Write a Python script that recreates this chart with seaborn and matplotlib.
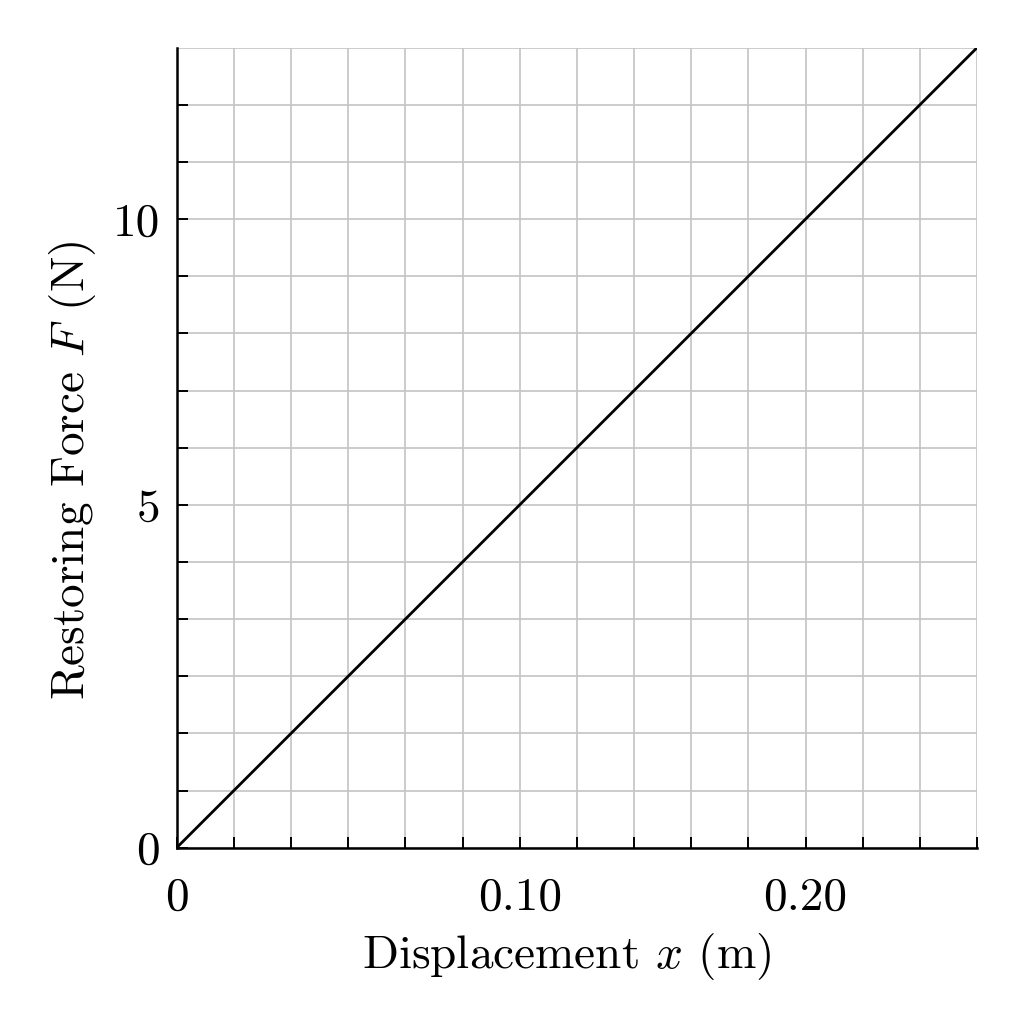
import numpy as np
import pandas as pd
import matplotlib
matplotlib.use('Agg')
import matplotlib.pyplot as plt
import matplotlib.ticker as mticker
import seaborn as sns

# Hooke's law line, F = k x
displacement = [0.0, 0.26]      # m
force = [0.0, 13.0]             # N

x_labels = [0.0, 0.10, 0.20]
x_label_text = ['0', '0.10', '0.20']
y_labels = [0, 5, 10]
y_label_text = ['0', '5', '10']

# the grid in the picture is not evenly spaced in data units:
# labelled values sit on grid lines 0, 6 and 11 of 14
X_ANCHOR = [0.0, 0.10, 0.20, 0.26]
Y_ANCHOR = [0.0, 5.0, 10.0, 13.0]
GRID_ANCHOR = [0, 6, 11, 14]


def make_scale(anchor):
    a = np.asarray(anchor, float)
    g = np.asarray(GRID_ANCHOR, float)

    def fwd(v):
        v = np.asarray(v, float)
        out = np.interp(v, a, g)
        lo = v < a[0]
        hi = v > a[-1]
        out = np.where(lo, g[0] + (v - a[0]) * (g[1] - g[0]) / (a[1] - a[0]), out)
        out = np.where(hi, g[-1] + (v - a[-1]) * (g[-1] - g[-2]) / (a[-1] - a[-2]), out)
        return out

    def inv(u):
        u = np.asarray(u, float)
        out = np.interp(u, g, a)
        lo = u < g[0]
        hi = u > g[-1]
        out = np.where(lo, a[0] + (u - g[0]) * (a[1] - a[0]) / (g[1] - g[0]), out)
        out = np.where(hi, a[-1] + (u - g[-1]) * (a[-1] - a[-2]) / (g[-1] - g[-2]), out)
        return out

    return fwd, inv


sns.set_theme(style='white')
plt.rcParams['font.family'] = ['cmr10']
plt.rcParams['mathtext.fontset'] = 'cm'
plt.rcParams['axes.formatter.use_mathtext'] = True

df = pd.DataFrame({'x': displacement, 'F': force})

fig = plt.figure(figsize=(10.24, 10.24), dpi=100)
ax = fig.add_axes([0.1726, 0.1722, 0.7815, 0.7812])

fx, ix = make_scale(X_ANCHOR)
fy, iy = make_scale(Y_ANCHOR)
ax.set_xscale('function', functions=(fx, ix))
ax.set_yscale('function', functions=(fy, iy))

sns.lineplot(data=df, x='x', y='F', ax=ax, color='black', linewidth=2.0)

ax.set_xlim(X_ANCHOR[0], X_ANCHOR[-1])
ax.set_ylim(Y_ANCHOR[0], Y_ANCHOR[-1])

grid_idx = np.arange(GRID_ANCHOR[-1] + 1)
ax.xaxis.set_major_locator(mticker.FixedLocator(x_labels))
ax.xaxis.set_major_formatter(mticker.FixedFormatter(x_label_text))
ax.yaxis.set_major_locator(mticker.FixedLocator(y_labels))
ax.yaxis.set_major_formatter(mticker.FixedFormatter(y_label_text))
ax.xaxis.set_minor_locator(mticker.FixedLocator(ix(grid_idx[1:])))
ax.yaxis.set_minor_locator(mticker.FixedLocator(iy(grid_idx[1:-1])))

# grid lines everywhere, including the top and right edges
for v in ix(grid_idx):
    ax.axvline(v, color='#c4c4c4', linewidth=1.2, zorder=0)
for v in iy(grid_idx):
    ax.axhline(v, color='#c4c4c4', linewidth=1.2, zorder=0)

ax.tick_params(which='both', direction='in', length=8, width=1.4, color='black',
               bottom=True, left=True, top=False, right=False,
               labelsize=34, labelcolor='black')
ax.tick_params(axis='x', which='major', pad=21)
ax.tick_params(axis='y', which='major', pad=12)

for side in ['top', 'right']:
    ax.spines[side].set_visible(False)
for side in ['left', 'bottom']:
    ax.spines[side].set_color('black')
    ax.spines[side].set_linewidth(1.8)

ax.set_xlabel(r'Displacement $x$ (m)', fontsize=34, color='black')
ax.set_ylabel(r'Restoring Force $F$ (N)', fontsize=34, color='black')
ax.xaxis.set_label_coords(0.487, -0.104)
ax.yaxis.set_label_coords(-0.098, 0.472)

fig.savefig('out.png', dpi=100, facecolor='white')
